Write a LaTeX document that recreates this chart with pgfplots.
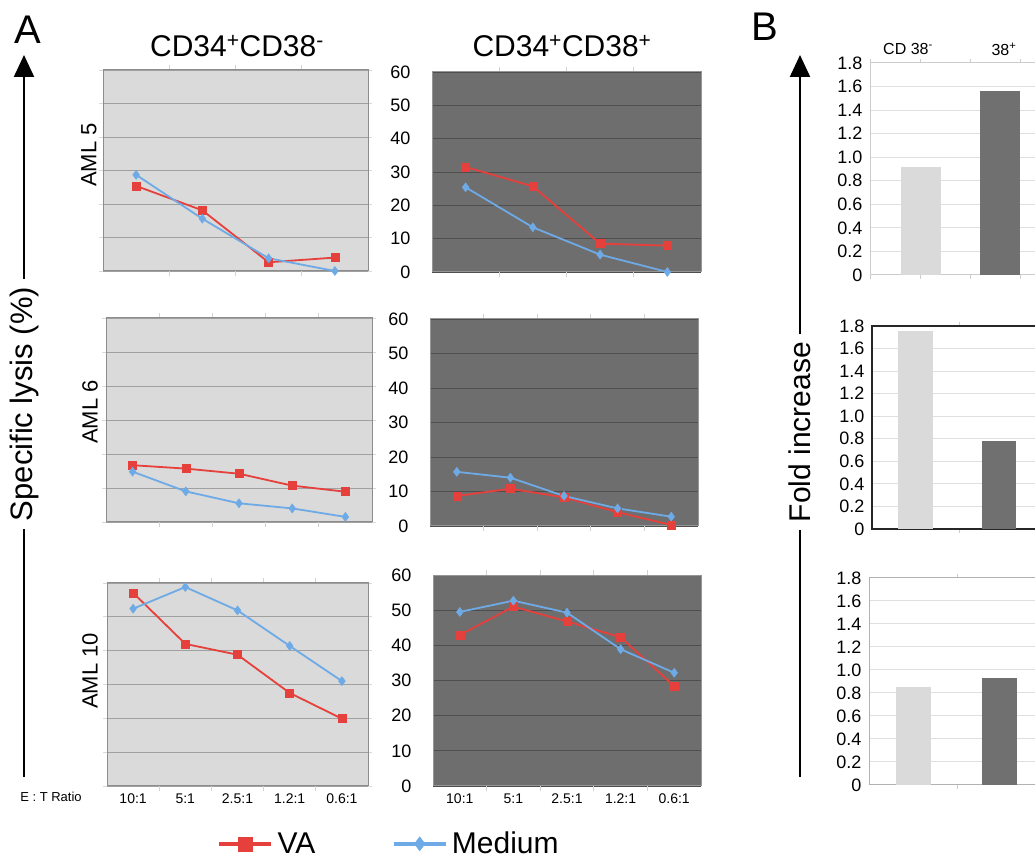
\documentclass[border=0pt]{standalone}
\usepackage{fontspec}
\setmainfont{Liberation Sans}
\usepackage{pgfplots}
\pgfplotsset{compat=1.18}
\usetikzlibrary{arrows.meta}

\definecolor{vared}{RGB}{230,64,60}
\definecolor{medblue}{RGB}{110,170,230}
\definecolor{lightfill}{RGB}{217,218,217}
\definecolor{darkfill}{RGB}{110,110,110}
\definecolor{gridlight}{RGB}{160,160,160}
\definecolor{griddark}{RGB}{78,78,78}
\definecolor{framelight}{RGB}{140,140,140}
\definecolor{framedark}{RGB}{150,150,150}
\definecolor{barlight}{RGB}{217,218,217}
\definecolor{bardark}{RGB}{112,112,112}

\pgfplotsset{
  every axis/.append style={/pgf/number format/assume math mode=true},
  lysis/.style={
    scale only axis, anchor=south west, clip=false,
    ymin=0, ymax=60, ytick={0,10,...,60}, ymajorgrids,
    xmin=0.5, xticklabels={},
    tick align=outside,
    major tick length=4pt, minor tick length=5pt,
    major x tick style={draw=none},
    minor x tick style={draw=gray!35, line width=0.8pt},
    xticklabel style={font=\fontsize{14}{14}\selectfont},
  },
  four/.style={xmax=4.5, xtick={1,2,3,4}, minor xtick={1.5,2.5,3.5}},
  five/.style={xmax=5.5, xtick={1,2,3,4,5}, minor xtick={1.5,2.5,3.5,4.5}},
  lightpanel/.style={lysis,
    axis background/.style={fill=lightfill},
    axis line style={draw=framelight, line width=1pt},
    grid style={draw=gridlight, line width=0.9pt},
    yticklabels={},
    major y tick style={draw=gray!30, line width=0.8pt}},
  darkpanel/.style={lysis,
    axis background/.style={fill=darkfill},
    axis line style={draw=framedark, line width=1pt},
    grid style={draw=griddark, line width=0.9pt},
    major y tick style={draw=none},
    yticklabel style={font=\fontsize{18}{18}\selectfont, xshift=-14pt}},
  va/.style={color=vared, line width=1.8pt, mark=square*, mark size=4pt,
    mark options={solid, line width=0.5pt}},
  med/.style={color=medblue, line width=1.8pt, mark=diamond*, mark size=4.5pt,
    mark options={solid, line width=0.5pt}},
  fold/.style={
    scale only axis, anchor=south west, clip=false,
    xmin=0, xmax=170, ymin=0, ymax=1.8,
    ytick={0,0.2,...,1.8},
    yticklabels={0,0.2,0.4,0.6,0.8,1.0,1.2,1.4,1.6,1.8},
    ymajorgrids, grid style={draw=gray!25, line width=1pt},
    xtick={88}, xticklabels={},
    tick align=outside, major tick length=4pt,
    major y tick style={draw=none},
    major x tick style={draw=gray!40, line width=0.8pt},
    yticklabel style={font=\fontsize{18}{18}\selectfont},
  },
  lbar/.style={ybar, bar shift=0pt, fill=barlight, draw=none},
  dbar/.style={ybar, bar shift=0pt, fill=bardark, draw=none},
}

\begin{document}
\begin{tikzpicture}
\useasboundingbox (0pt,0pt) rectangle (1035pt,861pt);
\clip (0pt,0pt) rectangle (1035pt,861pt);

% ---- A, row 1: AML 5 ----
\begin{axis}[lightpanel, four, at={(103pt,590pt)}, width=265pt, height=201pt]
\addplot[va] coordinates {(1,25.4) (2,18.1) (3,2.6) (4,4.0)};
\addplot[med] coordinates {(1,28.7) (2,15.6) (3,3.8) (4,0)};
\end{axis}
\begin{axis}[darkpanel, four, at={(432pt,589pt)}, width=269pt, height=200pt]
\addplot[va] coordinates {(1,31.5) (2,25.7) (3,8.5) (4,7.9)};
\addplot[med] coordinates {(1,25.4) (2,13.4) (3,5.2) (4,0)};
\end{axis}

% ---- A, row 2: AML 6 ----
\begin{axis}[lightpanel, five, at={(106pt,339pt)}, width=266pt, height=204pt]
\addplot[va] coordinates {(1,16.7) (2,15.7) (3,14.2) (4,10.7) (5,8.9)};
\addplot[med] coordinates {(1,14.8) (2,9.0) (3,5.5) (4,4.0) (5,1.5)};
\end{axis}
\begin{axis}[darkpanel, five, at={(430pt,335pt)}, width=268pt, height=207pt]
\addplot[va] coordinates {(1,8.7) (2,10.8) (3,8.3) (4,4.0) (5,0.3)};
\addplot[med] coordinates {(1,15.7) (2,14.0) (3,8.7) (4,5.1) (5,2.7)};
\end{axis}

% ---- A, row 3: AML 10 ----
\begin{axis}[lightpanel, five, at={(107pt,75pt)}, width=261pt, height=203pt,
  xticklabels={10:1,5:1,2.5:1,1.2:1,0.6:1},
  legend style={at={(1.084,-0.285)}, anchor=center, draw=none, fill=none,
    legend columns=2, font=\fontsize{30}{30}\selectfont,
    nodes={inner sep=4pt},
    /tikz/every even column/.append style={column sep=72pt}},
  legend image code/.code={\draw[line width=4.5pt, mark size=7pt,
    mark repeat=2, mark phase=2, mark options={solid, line width=0.5pt}]
    plot coordinates {(0pt,0pt) (26pt,0pt) (52pt,0pt)};}]
\addplot[va] coordinates {(1,57.1) (2,42.0) (3,38.8) (4,27.5) (5,19.9)};
\addlegendentry{VA}
\addplot[med] coordinates {(1,52.4) (2,58.8) (3,51.9) (4,41.4) (5,31.0)};
\addlegendentry{Medium}
\end{axis}
\begin{axis}[darkpanel, five, at={(433pt,75pt)}, width=268pt, height=211pt,
  xticklabels={10:1,5:1,2.5:1,1.2:1,0.6:1}]
\addplot[va] coordinates {(1,42.9) (2,51.0) (3,46.8) (4,42.3) (5,28.4)};
\addplot[med] coordinates {(1,49.5) (2,52.7) (3,49.3) (4,38.9) (5,32.2)};
\end{axis}

% ---- B: fold increase ----
\begin{axis}[fold, at={(870pt,586pt)}, width=170pt, height=212pt,
  axis line style={draw=gray!40, line width=1pt}, xtick={}]
\addplot[lbar, bar width=40pt] coordinates {(51,0.92)};
\addplot[dbar, bar width=40pt] coordinates {(129.5,1.56)};
\end{axis}
\begin{axis}[fold, at={(872pt,332pt)}, width=168pt, height=203pt,
  axis line style={draw=black!85, line width=1.2pt}]
\addplot[lbar, bar width=35pt] coordinates {(43.5,1.76)};
\addplot[dbar, bar width=34pt] coordinates {(128,0.78)};
\end{axis}
\begin{axis}[fold, at={(869pt,76pt)}, width=171pt, height=207pt,
  axis line style={draw=gray!60, line width=1pt}]
\addplot[lbar, bar width=35pt] coordinates {(44.5,0.85)};
\addplot[dbar, bar width=35pt] coordinates {(130,0.93)};
\end{axis}

% ---- labels and arrows ----
\node[font=\fontsize{40}{40}\selectfont] at (28pt,831pt) {A};
\node[font=\fontsize{40}{40}\selectfont] at (765pt,834pt) {B};
\node[font=\fontsize{30}{30}\selectfont] at (237pt,815pt) {CD34\textsuperscript{+}CD38\textsuperscript{-}};
\node[font=\fontsize{30}{30}\selectfont] at (562pt,815pt) {CD34\textsuperscript{+}CD38\textsuperscript{+}};
\node[rotate=90, font=\fontsize{22}{22}\selectfont] at (89pt,706pt) {AML 5};
\node[rotate=90, font=\fontsize{22}{22}\selectfont] at (90pt,449pt) {AML 6};
\node[rotate=90, font=\fontsize{22}{22}\selectfont] at (90pt,190pt) {AML 10};
\node[font=\fontsize{13}{13}\selectfont] at (51pt,64pt) {E : T Ratio};
\node[font=\fontsize{16}{16}\selectfont] at (908pt,812pt) {CD 38\textsuperscript{-}};
\node[font=\fontsize{16}{16}\selectfont] at (1004pt,812pt) {38\textsuperscript{+}};

\draw[line width=2.2pt, -{Triangle[width=20pt,length=22pt]}] (24pt,84pt) -- (24pt,806pt);
\node[rotate=90, fill=white, inner sep=8pt, font=\fontsize{31}{31}\selectfont] at (24pt,457pt) {Specific lysis (\%)};
\draw[line width=2.2pt, -{Triangle[width=20pt,length=22pt]}] (800pt,84pt) -- (800pt,806pt);
\node[rotate=90, fill=white, inner sep=8pt, font=\fontsize{30}{30}\selectfont] at (800pt,429pt) {Fold increase};
\end{tikzpicture}
\end{document}
